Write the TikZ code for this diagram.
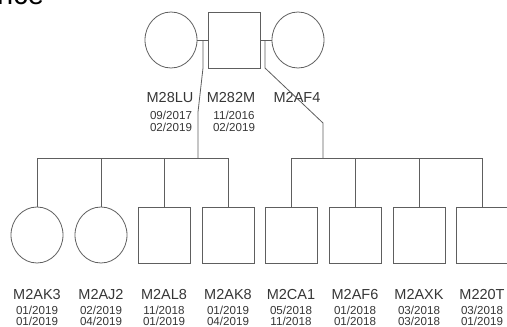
\documentclass[tikz,border=0pt]{standalone}
\usepackage{fontspec}
\setmainfont{Liberation Sans}
\usepackage{xcolor}
\usetikzlibrary{
  positioning,
  shapes.geometric
}
\definecolor{linegray}{HTML}{5E5E5E}
\definecolor{textgray}{HTML}{363636}
\tikzset{
  female/.style={draw=linegray,line width=0.8pt,ellipse,minimum width=52pt,minimum height=56pt,inner sep=0pt},
  male/.style={draw=linegray,line width=0.8pt,rectangle,minimum width=52pt,minimum height=56pt,inner sep=0pt},
  idname/.style={text=textgray,font=\fontsize{14.5}{15}\selectfont,inner sep=0pt,anchor=base},
  iddate/.style={text=textgray,font=\fontsize{11.6}{11}\selectfont,inner sep=0pt,anchor=base},
  link/.style={draw=linegray,line width=0.8pt}
}

\begin{document}
\begin{tikzpicture}[x=1pt,y=-1pt]
            \useasboundingbox (0,0) rectangle (507,327);
            \clip (0,0) rectangle (507,327);

            % cut-off heading
            \node[anchor=base west,inner sep=0pt,font=\fontsize{29}{30}\selectfont] (head) at (-3,4) {nce};

            % parents
            \node[female] (mLU) at (171,40) {};
            \node[male] (m2M) at (234,40) {};
            \node[female] (mF4) at (298,40) {};
            \draw[link] (mLU.east) -- (m2M.west);
            \draw[link] (m2M.east) -- (mF4.west);

            \node[idname] (nLU) at (170,102) {M28LU};
            \node[idname] (n2M) at (231,102) {M282M};
            \node[idname] (nF4) at (297,102) {M2AF4};
            \node[iddate] (dLUa) at (171,119) {09/2017};
            \node[iddate] (dLUb) at (171,131) {02/2019};
            \node[iddate] (d2Ma) at (234,119) {11/2016};
            \node[iddate] (d2Mb) at (234,131) {02/2019};

            % children
            \foreach \x/\kind/\id/\da/\db in {37/female/AK3/01\slash 2019/01\slash 2019,
                101/female/AJ2/02\slash 2019/04\slash 2019,
                164/male/AL8/11\slash 2018/01\slash 2019,
                228/male/AK8/01\slash 2019/04\slash 2019,
                291/male/CA1/05\slash 2018/11\slash 2018,
                355/male/AF6/01\slash 2018/01\slash 2018,
                419/male/AXK/03\slash 2018/03\slash 2018,
                482/male/20T/03\slash 2018/01\slash 2019} {
              \node[\kind] (k\id) at (\x,235) {};
              \node[idname] (n\id) at (\x,299) {M2\id};
              \node[iddate] (d\id) at (\x,314) {\da};
              \node[iddate] (e\id) at (\x,325) {\db};
              \coordinate (s\id) at (\x,158);
              \draw[link] (s\id) -- (k\id.north);
            }

            % sibships
            \coordinate (cpL) at (203,40);
            \coordinate (cpR) at (265,40);
            \coordinate (sibL) at (198,158);
            \coordinate (sibR) at (323,158);
            \draw[link] (sAK3) -- (sAK8);
            \draw[link] (sCA1) -- (s20T);
            \draw[link] (cpL) -- (203,68) -- (198,112) -- (sibL);
            \draw[link] (cpR) -- (265,68) -- (323,123) -- (sibR);
        \end{tikzpicture}
\end{document}
